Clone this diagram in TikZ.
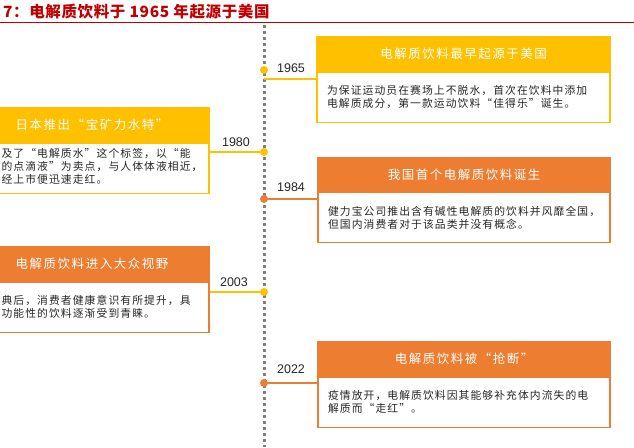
\documentclass[tikz,border=0pt]{standalone}
\usepackage{fontspec}
\setmainfont{Liberation Sans}
\newfontfamily\cjkbody[LetterSpace=10]{Noto Sans CJK SC}
\newfontfamily\cjkhead[LetterSpace=12]{Noto Sans CJK SC}
\newfontfamily\cjktitle[LetterSpace=4]{Noto Sans CJK SC}
\usetikzlibrary{positioning}
\definecolor{ink}{HTML}{262626}
\definecolor{gold}{HTML}{FFC000}
\definecolor{rust}{HTML}{ED7D31}
\definecolor{crimson}{HTML}{C00000}
\definecolor{rail}{HTML}{7F7F7F}

\begin{document}
\begin{tikzpicture}[x=1pt,y=-1pt,
  hdr/.style={draw=#1,fill=#1,line width=1.2pt,minimum height=34pt,inner sep=0pt,
    text=white,font=\cjkhead\fontsize{12.5}{14}\selectfont},
  txtbox/.style={draw=#1,fill=white,line width=1.2pt,minimum height=50pt,inner sep=0pt,
    text=ink,font=\cjkbody\fontsize{10.8}{13}\selectfont},
  knot/.style={circle,fill=#1,minimum size=8pt,inner sep=0pt},
  link/.style={#1,line width=1.8pt},
  yr/.style={text=ink,font=\fontsize{12.5}{14}\selectfont,inner sep=0pt}]
 \useasboundingbox (0,0) rectangle (634,447);
 \node[anchor=west,inner sep=0pt,text=crimson,font=\cjktitle\bfseries\fontsize{15.5}{17}\selectfont]
   (title) at (3,12) {7：电解质饮料于 1965 年起源于美国};
 \draw[crimson,line width=1.5pt] (0,22.5) -- (634,22.5);
 \coordinate (top) at (264,25);
 \coordinate (bottom) at (264,447);
 \draw[rail,line width=3pt,dash pattern=on 3pt off 3pt] (top) -- (bottom);

 \node[hdr=gold,minimum width=293pt] (h1) at (463.5,54) {电解质饮料最早起源于美国};
 \node[txtbox=gold,minimum width=293pt,text width=273pt,inner xsep=10pt,align=left,below=0pt of h1] (b1)
   {为保证运动员在赛场上不脱水，首次在饮料中添加\\电解质成分，第一款运动饮料“佳得乐”诞生。};

 \node[hdr=gold,minimum width=234pt] (h2) at (92,125) {日本推出“宝矿力水特”};
 \node[txtbox=gold,minimum width=234pt,below=0pt of h2] (b2) {};
 \node[txtbox=white,draw=none,fill=none,minimum height=0pt,align=left,anchor=west] (t2) at (1,166)
   {及了“电解质水”这个标签，以“能\\的点滴液”为卖点，与人体体液相近，\\经上市便迅速走红。};

 \node[hdr=rust,minimum width=292pt] (h3) at (464,174.5) {我国首个电解质饮料诞生};
 \node[txtbox=rust,minimum width=292pt,text width=272pt,inner xsep=10pt,align=left,below=0pt of h3] (b3)
   {健力宝公司推出含有碱性电解质的饮料并风靡全国，\\但国内消费者对于该品类并没有概念。};

 \node[hdr=rust,minimum width=234pt] (h4) at (92,264) {电解质饮料进入大众视野};
 \node[txtbox=rust,minimum width=234pt,below=0pt of h4] (b4) {};
 \node[txtbox=white,draw=none,fill=none,minimum height=0pt,align=left,anchor=west] (t4) at (1,307)
   {典后，消费者健康意识有所提升，具\\功能性的饮料逐渐受到青睐。};

 \node[hdr=rust,minimum width=292pt] (h5) at (464,359) {电解质饮料被“抢断”};
 \node[txtbox=rust,minimum width=292pt,text width=272pt,inner xsep=10pt,align=left,below=0pt of h5] (b5)
   {疫情放开，电解质饮料因其能够补充体内流失的电\\解质而“走红”。};

 \coordinate (c1) at (264,79);
 \draw[link=gold] (c1) -- (c1 -| b1.west);
 \node[knot=gold] (d1) at (264,70) {};
 \node[knot=gold] (d2) at (264,152) {};
 \draw[link=gold] (b2.east |- d2) -- (d2);
 \node[knot=rust] (d3) at (264,199) {};
 \draw[link=rust] (d3) -- (d3 -| b3.west);
 \node[knot=gold] (d4) at (264,292) {};
 \draw[link=gold] (b4.east |- d4) -- (d4);
 \node[knot=rust] (d5) at (264,383) {};
 \draw[link=rust] (d5) -- (d5 -| b5.west);

 \node[yr] (y1) at (291,68) {1965};
 \node[yr] (y2) at (236,142) {1980};
 \node[yr] (y3) at (291,187) {1984};
 \node[yr] (y4) at (234,282) {2003};
 \node[yr] (y5) at (291,369) {2022};
\end{tikzpicture}
\end{document}
